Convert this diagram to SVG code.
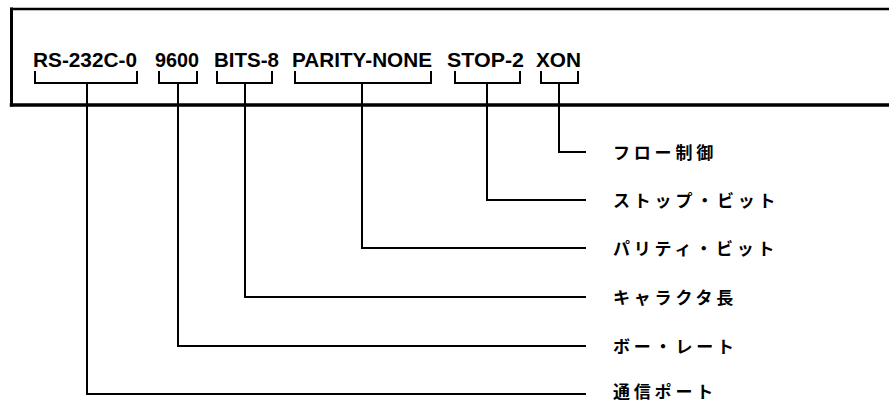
<svg xmlns="http://www.w3.org/2000/svg" width="889" height="403" viewBox="0 0 889 403">
<style>
.param{font-family:"Liberation Sans",Arial,sans-serif;font-weight:bold;font-size:20px;fill:#000}
.label{font-family:"Noto Sans CJK JP","Noto Sans CJK SC",sans-serif;font-weight:bold;font-size:17px;letter-spacing:3.8px;fill:#000}
.ln{fill:none;stroke:#000;stroke-width:2;stroke-linejoin:miter;stroke-linecap:square}
.frame{fill:none;stroke:#000;stroke-linecap:square}
</style>
<rect width="889" height="403" fill="#fff"/>
<g id="frame">
<line class="frame" x1="11.5" y1="9" x2="895" y2="9" stroke-width="2.5"/>
<line class="frame" x1="11.5" y1="9" x2="11.5" y2="105" stroke-width="3"/>
<line class="frame" x1="11.5" y1="105" x2="895" y2="105" stroke-width="3.5"/>
</g>
<g id="params">
<g id="p-port"><text class="param" x="33" y="67" textLength="104" lengthAdjust="spacingAndGlyphs">RS-232C-0</text></g>
<g id="p-baud"><text class="param" x="155" y="67" textLength="44" lengthAdjust="spacingAndGlyphs">9600</text></g>
<g id="p-bits"><text class="param" x="214" y="67" textLength="65" lengthAdjust="spacingAndGlyphs">BITS-8</text></g>
<g id="p-parity"><text class="param" x="292" y="67" textLength="140" lengthAdjust="spacingAndGlyphs">PARITY-NONE</text></g>
<g id="p-stop"><text class="param" x="447" y="67" textLength="77" lengthAdjust="spacingAndGlyphs">STOP-2</text></g>
<g id="p-xon"><text class="param" x="536" y="67" textLength="45" lengthAdjust="spacingAndGlyphs">XON</text></g>
</g>
<g id="connectors">
<path class="ln" d="M35 72 V83 H137 V72 M87 83 V394 H585"/>
<path class="ln" d="M159 72 V83 H197 V72 M178 83 V346 H585"/>
<path class="ln" d="M217 72 V83 H272 V72 M245 83 V297 H585"/>
<path class="ln" d="M295 72 V83 H431 V72 M362 83 V248 H585"/>
<path class="ln" d="M455 72 V83 H520 V72 M487 83 V200 H585"/>
<path class="ln" d="M541 72 V83 H578 V72 M559 83 V152 H585"/>
</g>
<g id="labels">
<g id="l-flow"><text class="label" x="613" y="158.5">フロー制御</text></g>
<g id="l-stop"><text class="label" x="613" y="206.5">ストップ・ビット</text></g>
<g id="l-parity"><text class="label" x="613" y="254.5">パリティ・ビット</text></g>
<g id="l-char"><text class="label" x="613" y="303.5">キャラクタ長</text></g>
<g id="l-baud"><text class="label" x="613" y="352.5">ボー・レート</text></g>
<g id="l-port"><text class="label" x="613" y="398">通信ポート</text></g>
</g>
</svg>
